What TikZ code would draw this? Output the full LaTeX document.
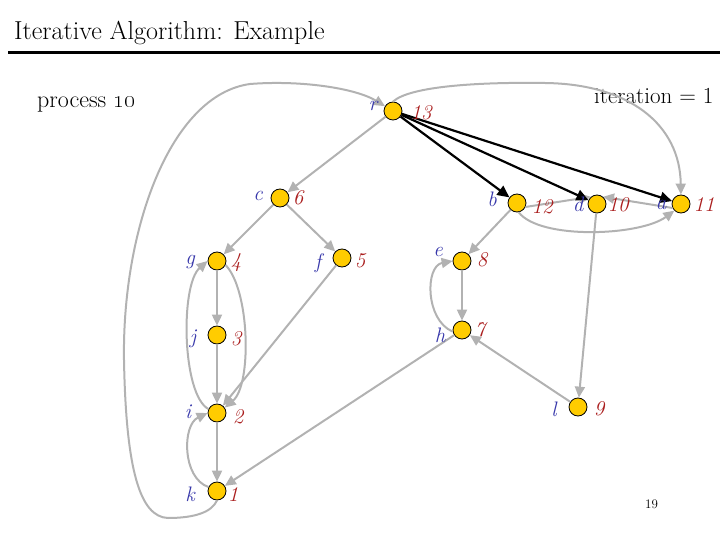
\documentclass[tikz,border=0pt]{standalone}
\usetikzlibrary{arrows.meta}
\definecolor{gry}{RGB}{178,178,178}
\definecolor{lblue}{RGB}{55,55,170}
\definecolor{lred}{RGB}{170,30,30}
\definecolor{gold}{RGB}{255,204,0}
\begin{document}
\begin{tikzpicture}[x=1pt,y=-1pt,
  vtx/.style={circle,draw=black,line width=0.8pt,fill=gold,minimum size=18pt,inner sep=0pt},
  let/.style={text=lblue,font=\fontsize{21}{24}\selectfont\itshape,inner sep=0pt},
  num/.style={text=lred,font=\fontsize{21}{24}\selectfont\itshape,inner sep=0pt},
  ge/.style={draw=gry,line width=2pt,-{Triangle[length=11pt,width=10pt]}},
  be/.style={draw=black,line width=2.2pt,-{Triangle[length=12pt,width=11pt]}},
  txt/.style={inner sep=0pt,anchor=base west}]
\useasboundingbox (0,0) rectangle (720,540);
% title
\node[txt,font=\fontsize{26}{30}\selectfont] (title) at (14,40) {Iterative Algorithm: Example};
\draw[line width=3pt] (8,53) -- (720,53);
\node[txt,font=\fontsize{24}{28}\selectfont] (proc) at (37,108) {process \oldstylenums{10}};
\node[txt,font=\fontsize{23}{27}\selectfont] (iter) at (594,104) {iteration = 1};
\node[txt,font=\fontsize{13}{15}\selectfont] (pg) at (645,508) {19};
% vertices
\node[vtx] (r) at (393,111) {};
\node[vtx] (c) at (280,198) {};
\node[vtx] (b) at (517,203) {};
\node[vtx] (d) at (597,204) {};
\node[vtx] (a) at (681,204) {};
\node[vtx] (g) at (217,261) {};
\node[vtx] (f) at (342,258) {};
\node[vtx] (e) at (462,261) {};
\node[vtx] (j) at (217,335) {};
\node[vtx] (h) at (462,330) {};
\node[vtx] (i) at (217,413) {};
\node[vtx] (l) at (578,407) {};
\node[vtx] (k) at (217,491) {};
% edges (gray)
\draw[ge] (r) -- (c);
\draw[ge] (c) -- (g);
\draw[ge] (c) -- (f);
\draw[ge] (g) -- (j);
\draw[ge] (j) -- (i);
\draw[ge] (i) -- (k);
\draw[ge] (f) -- (i);
\draw[ge] (g.-25) .. controls (250,290) and (252,385) .. (i.35);
\draw[ge] (i.155) .. controls (182,395) and (180,285) .. (g.west);
\draw[ge] (k.155) .. controls (182,478) and (182,425) .. (i.west);
\draw[ge] (k.south) .. controls (212,512) and (195,518) .. (168,518)
   .. controls (140,517) and (126,470) .. (124,360)
   .. controls (122,230) and (170,95) .. (250,84)
   .. controls (300,80) and (355,88) .. (r);
\draw[ge] (r.north) .. controls (410,86) and (480,82) .. (545,83)
   .. controls (630,84) and (680,125) .. (a);
\draw[ge] (b.-25) -- (d.130);
\draw[ge] (a.-155) -- (d.50);
\draw[ge] (b.-80) .. controls (540,240) and (640,236) .. (a.-135);
\draw[ge] (b) -- (e);
\draw[ge] (e) -- (h);
\draw[ge] (h.190) .. controls (425,320) and (425,266) .. (e.west);
\draw[ge] (d) -- (l);
\draw[ge] (l) -- (h);
\draw[ge] (h) -- (k);
% black edges
\draw[be] (r) -- (b);
\draw[be] (r) -- (d);
\draw[be] (r) -- (a);
% labels
\node[let] (rL) at (373,106) {r};   \node[num] (rN) at (421,113) {13};
\node[let] (cL) at (258,196) {c};   \node[num] (cN) at (298,198) {6};
\node[let] (bL) at (492,199) {b};   \node[num] (bN) at (542,207) {12};
\node[let] (dL) at (578,204) {d};   \node[num] (dN) at (618,205) {10};
\node[let] (aL) at (661,205) {a};   \node[num] (aN) at (704,205) {11};
\node[let] (gL) at (190,262) {g};   \node[num] (gN) at (236,263) {4};
\node[let] (fL) at (318,263) {f};   \node[num] (fN) at (360,261) {5};
\node[let] (eL) at (438,252) {e};   \node[num] (eN) at (482,260) {8};
\node[let] (jL) at (193,339) {j};   \node[num] (jN) at (236,339) {3};
\node[let] (hL) at (440,335) {h};   \node[num] (hN) at (480,330) {7};
\node[let] (iL) at (188,412) {i};   \node[num] (iN) at (238,417) {2};
\node[let] (lL) at (554,409) {l};   \node[num] (lN) at (599,409) {9};
\node[let] (kL) at (190,494) {k};   \node[num] (kN) at (233,495) {1};
\end{tikzpicture}
\end{document}
